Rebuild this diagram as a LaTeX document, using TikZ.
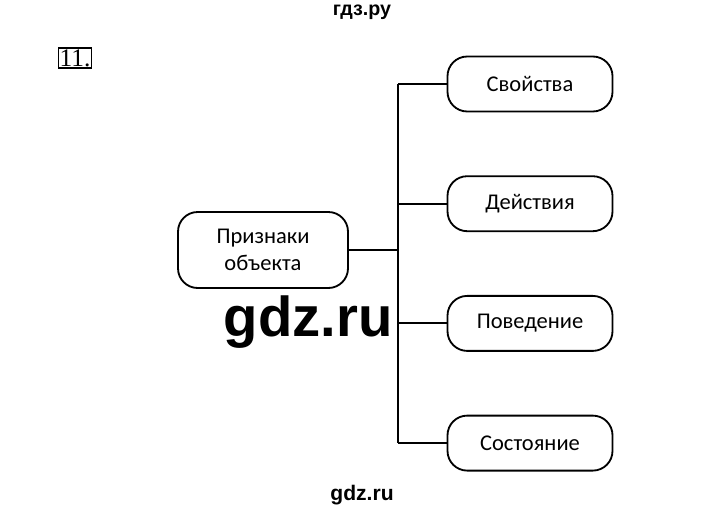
\documentclass[tikz,border=0pt]{standalone}
\usepackage{fontspec}
\setmainfont{Carlito}
\newfontfamily\wmfont{Liberation Sans}
\newfontfamily\numfont{Liberation Serif}
\usetikzlibrary{positioning}

\begin{document}
\begin{tikzpicture}[
  x=0.025cm, y=-0.025cm,
  pill/.style={draw, line width=1.3pt, rounded corners=14pt,
    minimum width=165*0.025cm, minimum height=55*0.025cm,
    align=center, font=\fontsize{16}{19}\selectfont},
  link/.style={line width=1.3pt}]
  \useasboundingbox (0,0) rectangle (720,518);
  % headings and marks
  \node (site) at (362,12) {\wmfont\bfseries\fontsize{14}{16}\selectfont гдз.ру};
  \node[draw, line width=0.8pt, inner sep=1pt] (num) at (75,58) {\numfont\fontsize{18}{20}\selectfont 11.};
  % main node
  \node[pill, minimum width=170*0.025cm, minimum height=76*0.025cm] (obj) at (263,250) {Признаки\\объекта};
  % trunk
  \coordinate (joint) at (398,250);
  \coordinate (top) at (398,84);
  \coordinate (bot) at (398,443);
  \draw[link] (obj.east) -- (joint);
  \draw[link] (top) -- (bot);
  % leaves
  \foreach \t [count=\i from 0] in {Свойства,Действия,Поведение,Состояние} {
    \node[pill] (p\i) at (530,84+119.7*\i) {\t};
    \coordinate (b\i) at (398,84+119.7*\i);
    \draw[link] (b\i) -- (p\i.west);
  }
  % watermarks
  \node (wm) at (308,322) {\wmfont\bfseries\fontsize{40}{44}\selectfont gdz.ru};
  \node (foot) at (362,495) {\wmfont\bfseries\fontsize{15}{17}\selectfont gdz.ru};
\end{tikzpicture}
\end{document}
